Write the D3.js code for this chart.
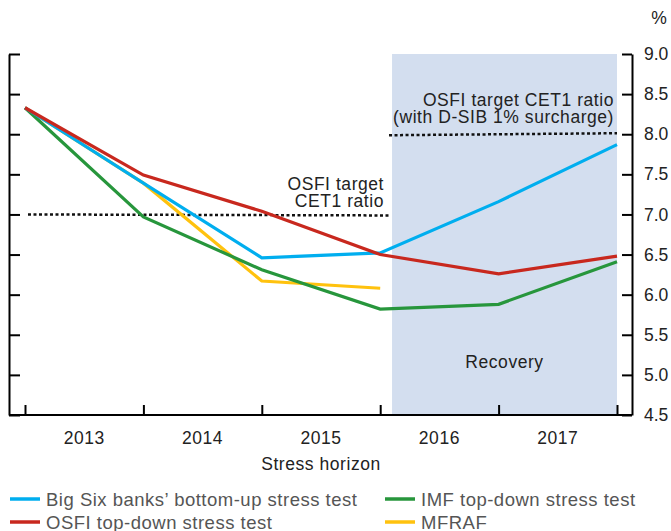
<!DOCTYPE html>
<style>
    body{ margin:0; background:#fff; }
    svg{ font-family:"Liberation Sans",Arial,sans-serif; }
</style>
<svg width="671" height="531"></svg>
<script src="https://d3js.org/d3.v7.min.js"></script>
<script>
    var svg=d3.select("svg");

    // data
    var years=["2013","2014","2015","2016","2017"];
    var steps=[0,1,2,3,4,5];
    var yTicks=[4.5,5.0,5.5,6.0,6.5,7.0,7.5,8.0,8.5,9.0];
    var bigSix=[8.33,7.39,6.46,6.52,7.16,7.87];
    var osfi=[8.33,7.49,7.04,6.50,6.26,6.48];
    var imf=[8.33,6.97,6.31,5.82,5.88,6.41];
    var mfraf=[8.33,7.39,6.17,6.08];
    var target=7.0, targetDsib=8.0;
    var recoveryStart=3.1;

    var plotLeft=9,plotRight=632,plotTop=54,plotBottom=415;
    var fs=17.5, ls=0.55;

    var x=d3.scaleLinear().domain([0,5]).range([25,617]);
    var xBand=d3.scaleBand().domain(years).range([25,617]);
    var y=d3.scaleLinear().domain([4.5,9]).range([plotBottom,plotTop]);

    // recovery shading
    svg.append("rect")
        .attr("x",x(recoveryStart))
        .attr("y",y(9))
        .attr("width",x(5)-x(recoveryStart))
        .attr("height",y(4.5)-y(9))
        .attr("fill","#d3deef");

    svg.append("text")
        .attr("x",(x(recoveryStart)+x(5))/2)
        .attr("y",368)
        .attr("text-anchor","middle")
        .attr("font-size",fs).attr("letter-spacing",ls)
        .attr("fill","#222")
        .text("Recovery");

    // axes
    svg.append("g")
        .attr("transform","translate("+plotLeft+",0)")
        .call(d3.axisLeft(y).tickValues(yTicks).tickSizeInner(-11).tickSizeOuter(0).tickFormat(""));
    var yRight=svg.append("g")
        .attr("transform","translate("+plotRight+",0)")
        .call(d3.axisRight(y).tickValues(yTicks).tickSizeInner(-10).tickSizeOuter(0).tickPadding(12)
            .tickFormat(d3.format(".1f")));
    yRight.selectAll("text").attr("font-size",17.5).attr("fill","#222").attr("font-family",null);

    var xAx=svg.append("g")
        .attr("transform","translate(0,"+plotBottom+")")
        .call(d3.axisBottom(x).tickValues(steps).tickSizeInner(-10).tickSizeOuter(0).tickFormat(""));
    xAx.select(".domain").remove();

    svg.append("line")
        .attr("x1",plotLeft).attr("x2",plotRight)
        .attr("y1",plotBottom).attr("y2",plotBottom)
        .attr("stroke","#000").attr("stroke-width",2);

    svg.selectAll(".domain, .tick line").attr("stroke","#000").attr("stroke-width",2);

    svg.append("text")
        .attr("x",659).attr("y",24)
        .attr("text-anchor","middle")
        .attr("font-size",17.5).attr("fill","#222")
        .text("%");

    svg.selectAll(".year")
        .data(years)
        .enter().append("text")
        .attr("class","year")
        .attr("x",function(d){ return xBand(d)+xBand.bandwidth()/2; })
        .attr("y",444)
        .attr("text-anchor","middle")
        .attr("font-size",fs).attr("letter-spacing",ls).attr("fill","#222")
        .text(function(d){ return d; });

    svg.append("text")
        .attr("x",(x(0)+x(5))/2)
        .attr("y",470)
        .attr("text-anchor","middle")
        .attr("font-size",fs).attr("letter-spacing",ls).attr("fill","#222")
        .text("Stress horizon");

    // target lines
    svg.append("line")
        .attr("x1",28).attr("x2",x(recoveryStart)-2)
        .attr("y1",y(target)).attr("y2",y(target)+1)
        .attr("stroke","#111").attr("stroke-width",2.5).attr("stroke-dasharray","3,2.5");
    svg.append("line")
        .attr("x1",x(recoveryStart)-3).attr("x2",x(5))
        .attr("y1",y(targetDsib)+1).attr("y2",y(targetDsib)-1)
        .attr("stroke","#111").attr("stroke-width",2.5).attr("stroke-dasharray","3,2.5");

    var notes=[
        {t:"OSFI target",x:384,y:190},
        {t:"CET1 ratio",x:384,y:207},
        {t:"OSFI target CET1 ratio",x:614,y:106},
        {t:"(with D-SIB 1% surcharge)",x:614,y:123}
    ];
    svg.selectAll(".note")
        .data(notes)
        .enter().append("text")
        .attr("class","note")
        .attr("x",function(d){ return d.x; })
        .attr("y",function(d){ return d.y; })
        .attr("text-anchor","end")
        .attr("font-size",fs).attr("letter-spacing",ls).attr("fill","#222")
        .text(function(d){ return d.t; });

    // series
    var series=[
        {name:"MFRAF",values:mfraf,color:"#ffc20e"},
        {name:"IMF top-down stress test",values:imf,color:"#27963c"},
        {name:"Big Six banks\u2019 bottom-up stress test",values:bigSix,color:"#00aeef"},
        {name:"OSFI top-down stress test",values:osfi,color:"#c8281e"}
    ];

    var line=d3.line()
        .x(function(d,i){ return x(steps[i]); })
        .y(function(d){ return y(d); });

    svg.selectAll(".series")
        .data(series)
        .enter().append("path")
        .attr("class","series")
        .attr("d",function(d){ return line(d.values); })
        .attr("fill","none")
        .attr("stroke",function(d){ return d.color; })
        .attr("stroke-width",3.2);

    // legend
    var legendItems=[series[2],series[1],series[3],series[0]];
    var lg=svg.selectAll(".lg")
        .data(legendItems)
        .enter().append("g")
        .attr("class","lg")
        .attr("transform",function(d,i){ return "translate("+(i%2===0?10:385)+","+(i<2?499:522)+")"; });
    lg.append("line")
        .attr("x1",0).attr("x2",30)
        .attr("stroke",function(d){ return d.color; })
        .attr("stroke-width",3.5);
    lg.append("text")
        .attr("x",36).attr("y",6.5)
        .attr("font-size",18.5).attr("letter-spacing",0.5).attr("fill","#555")
        .text(function(d){ return d.name; });
</script>
